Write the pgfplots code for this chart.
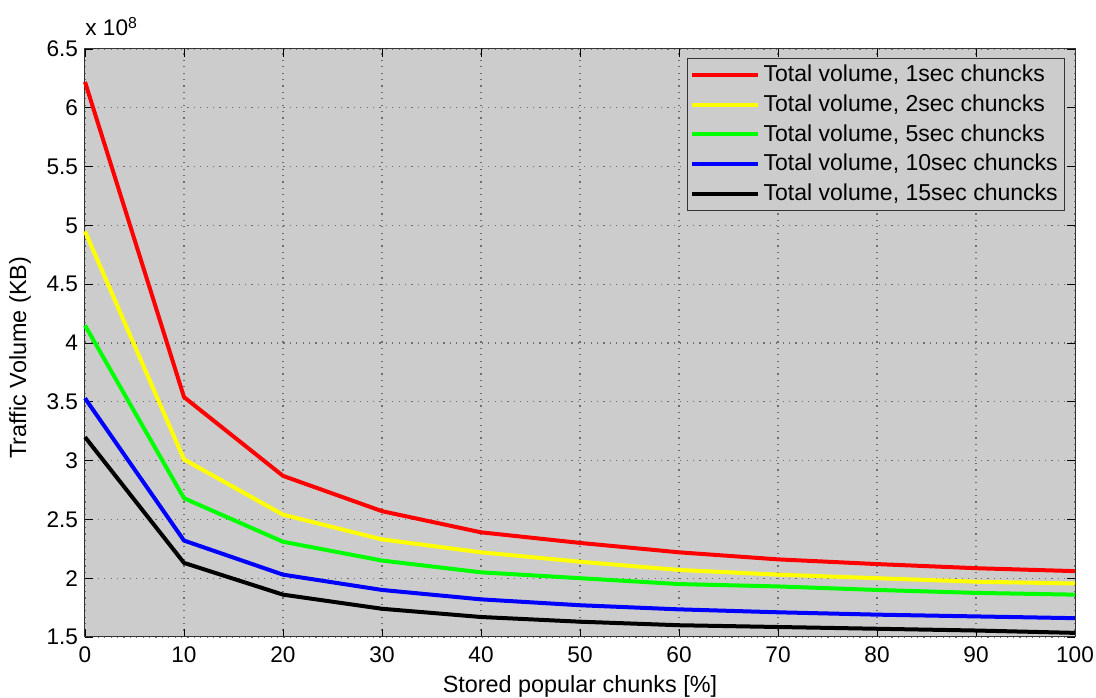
\documentclass[border=0pt]{standalone}
\usepackage{fontspec}
\setmainfont{Liberation Sans}
\usepackage{pgfplots}
\pgfplotsset{compat=1.18}
\definecolor{bggray}{RGB}{204,204,204}
\definecolor{gridgray}{RGB}{110,110,110}
\definecolor{myyellow}{RGB}{255,255,0}
\definecolor{mygreen}{RGB}{0,255,0}
\definecolor{myblue}{RGB}{0,0,255}
\begin{document}
\begin{tikzpicture}
\begin{axis}[
  scale only axis,
  clip=false,
  width=495pt, height=294pt,
  xmin=0, xmax=100, ymin=1.5, ymax=6.5,
  xtick={0,10,...,100},
  ytick={1.5,2,...,6.5},
  /pgf/number format/assume math mode=true,
  yticklabel style={/pgf/number format/fixed},
  scaled y ticks=false,
  tick align=inside,
  tick style={black, line width=0.4pt},
  major tick length=4pt,
  axis background/.style={fill=bggray},
  axis line style={black!80, line width=0.5pt},
  grid=major,
  major grid style={gridgray, line width=0.6pt, dash pattern=on 0.6pt off 2.6pt},
  ticklabel style={font=\fontsize{11.3}{13}\selectfont},
  xticklabel style={yshift=-1.5pt},
  label style={font=\fontsize{11.7}{13}\selectfont},
  xlabel={Stored popular chunks [\%]},
  ylabel={Traffic Volume (KB)},
  xlabel style={at={(axis description cs:0.5,-0.0835)}, anchor=center},
  ylabel style={at={(axis description cs:-0.0657,0.475)}, anchor=center, rotate=0},
  legend style={fill=bggray, draw=black!80, font=\fontsize{11.5}{13}\selectfont, inner sep=1.5pt, row sep=1pt, at={(0.99,0.985)}, anchor=north east},
  legend cell align=left,
  legend image code/.code={\draw[#1] (0cm,0cm) -- (1.15cm,0cm);},
  every axis plot/.append style={line width=2pt, line join=round},
]
\addplot[red] coordinates {(0,6.22) (10,3.54) (20,2.87) (30,2.57) (40,2.39) (50,2.30) (60,2.22) (70,2.16) (80,2.12) (90,2.085) (100,2.06)};
\addlegendentry{Total volume, 1sec chuncks}
\addplot[myyellow] coordinates {(0,4.95) (10,3.01) (20,2.54) (30,2.33) (40,2.22) (50,2.14) (60,2.07) (70,2.03) (80,2.0) (90,1.97) (100,1.955)};
\addlegendentry{Total volume, 2sec chuncks}
\addplot[mygreen] coordinates {(0,4.15) (10,2.68) (20,2.31) (30,2.15) (40,2.05) (50,2.0) (60,1.95) (70,1.93) (80,1.90) (90,1.875) (100,1.86)};
\addlegendentry{Total volume, 5sec chuncks}
\addplot[myblue] coordinates {(0,3.53) (10,2.32) (20,2.03) (30,1.90) (40,1.82) (50,1.77) (60,1.735) (70,1.71) (80,1.69) (90,1.675) (100,1.66)};
\addlegendentry{Total volume, 10sec chuncks}
\addplot[black] coordinates {(0,3.20) (10,2.13) (20,1.86) (30,1.74) (40,1.67) (50,1.63) (60,1.60) (70,1.585) (80,1.57) (90,1.555) (100,1.535)};
\addlegendentry{Total volume, 15sec chuncks}
\node[anchor=base west, font=\fontsize{11.3}{12}\selectfont, inner sep=0pt] at (rel axis cs:0,1) [yshift=6.5pt] {x 10\textsuperscript{8}};
\coordinate (ll) at (rel axis cs:0,0);
\coordinate (ur) at (rel axis cs:1,1);
\end{axis}
\pgfresetboundingbox
\path[use as bounding box] ([xshift=-42.5pt,yshift=-30.5pt]ll) rectangle ([xshift=10.5pt,yshift=24.5pt]ur);
\end{tikzpicture}
\end{document}
